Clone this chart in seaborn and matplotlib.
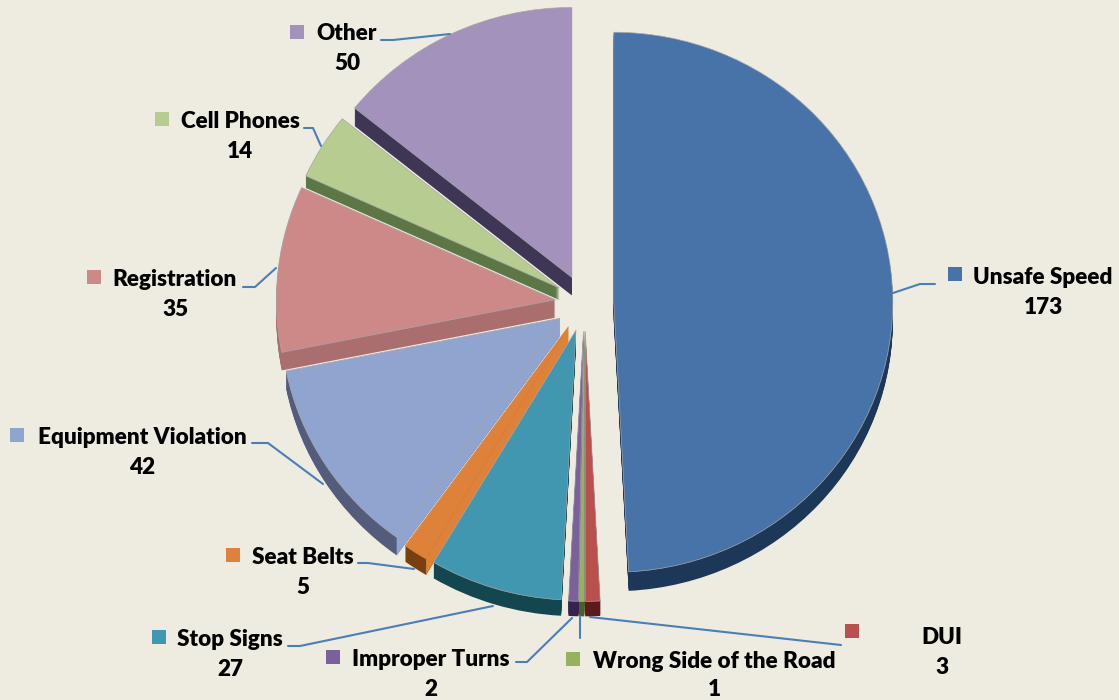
import matplotlib
matplotlib.use("Agg")
import numpy as np
import matplotlib.pyplot as plt
import seaborn as sns

sns.set_theme(style="white")
plt.rcParams['font.family'] = ['Lato', 'DejaVu Sans']

categories = ["Unsafe Speed", "DUI", "Wrong Side of the Road", "Improper Turns", "Stop Signs",
              "Seat Belts", "Equipment Violation", "Registration", "Cell Phones", "Other"]
values = [173, 3, 1, 2, 27, 5, 42, 35, 14, 50]

top_colors = ["#4873A8", "#BA504E", "#96B25E", "#7A619B", "#4196B0",
              "#DF8239", "#8FA5CF", "#CD8988", "#B6CC90", "#A392BC"]
side_colors = ["#1C3757", "#5C1A1C", "#4E5E2D", "#35224F", "#14464F",
               "#78400F", "#545C7C", "#AB6E6E", "#5D7645", "#3F3656"]
side_depth = [19, 15, 15, 15, 16, 16, 18, 18, 12, 18]
lit_radial_face = [False, False, False, False, False, True, True, False, False, False]

# layout in picture pixels
W, H = 1119, 700
CX, CY, RX, RY = 584.5, 303, 279, 270
EXPLODE = 0.105

def dx(px): return (px - CX) / RX
def dy(py): return (CY - py) / RY

label_pos = [(1043, 278), (942, 638), (714, 661), (431, 659), (230, 640),
             (303, 557), (142, 438), (175, 280), (240, 122), (347, 34)]
value_pos = [(1043, 307), (942, 668), (714, 690), (431, 689), (230, 669),
             (303, 587), (142, 467), (175, 310), (240, 152), (347, 64)]
marker_pos = [(955, 274), (852, 631), (573, 659), (333, 657), (159, 637),
              (233, 555), (17, 435), (94, 277), (162, 119), (297, 32)]
leaders = [
    [(935, 284), (920, 284), (893, 293)],
    [(841, 645), (590, 617)],
    [(580, 638), (580, 617)],
    [(516, 662), (527, 662), (572, 618)],
    [(288, 646), (300, 646), (493, 606)],
    [(358, 563), (368, 563), (414, 569)],
    [(252, 443), (268, 443), (323, 484)],
    [(243, 287), (255, 287), (276, 268)],
    [(304, 128), (313, 128), (321, 146)],
    [(381, 40), (393, 40), (450, 34)],
]

BG = "#EEECE1"
fig = plt.figure(figsize=(W / 100, H / 100), dpi=100, facecolor=BG)
ax = fig.add_axes([0, 0, 1, 1], facecolor=BG)

explode = [EXPLODE] * len(values)
# extruded sides: stacked copies shifted downward
for k in range(20, 0, -1):
    wedges, _ = ax.pie(values, explode=explode, colors=side_colors, startangle=90,
                       counterclock=False, radius=1, center=(0, -k / RY),
                       wedgeprops=dict(linewidth=0, edgecolor="none"))
    for w, d in zip(wedges, side_depth):
        w.set_zorder(1)
        if k > d:
            w.set_visible(False)
wedges, _ = ax.pie(values, explode=explode, colors=top_colors, startangle=90,
                   counterclock=False, radius=1, center=(0, 0),
                   wedgeprops=dict(edgecolor="#a8a8a8", linewidth=0.5))
for i, w in enumerate(wedges):
    w.set_zorder(2)
    if lit_radial_face[i] and categories[i] == "Seat Belts":
        w.set_edgecolor(top_colors[i])

# sunlit radial side faces, derived from the pie's own wedges
for i, (w, col, d, lit) in enumerate(zip(wedges, top_colors, side_depth, lit_radial_face)):
    if not lit:
        continue
    cx, cy = w.center
    a = np.deg2rad(w.theta2)
    ex, ey = cx + w.r * np.cos(a), cy + w.r * np.sin(a)
    off = d / RY
    ax.fill([cx, ex, ex, cx], [cy, ey, ey - off, cy - off], color=col, lw=0,
            zorder=1.6 if categories[i] == "Seat Belts" else 1.5)

ax.set_aspect("auto")
ax.set_xlim(dx(0), dx(W))
ax.set_ylim(dy(H), dy(0))
ax.axis("off")

for pts in leaders:
    ax.plot([dx(p[0]) for p in pts], [dy(p[1]) for p in pts],
            color="#4A7EBB", lw=1.5, zorder=3, solid_capstyle="round")

for cat, val, col, lp, vp, mp in zip(categories, values, top_colors, label_pos, value_pos, marker_pos):
    ax.text(dx(lp[0]), dy(lp[1]), cat, ha="center", va="center", fontsize=16.2,
            fontweight="heavy", color="black", zorder=4)
    ax.text(dx(vp[0]), dy(vp[1]), str(val), ha="center", va="center", fontsize=16.2,
            fontweight="heavy", color="black", zorder=4)
    ax.scatter([dx(mp[0])], [dy(mp[1])], marker="s", s=100, color=col, linewidths=0, zorder=4)

fig.savefig("out.png", dpi=100, facecolor=BG)
